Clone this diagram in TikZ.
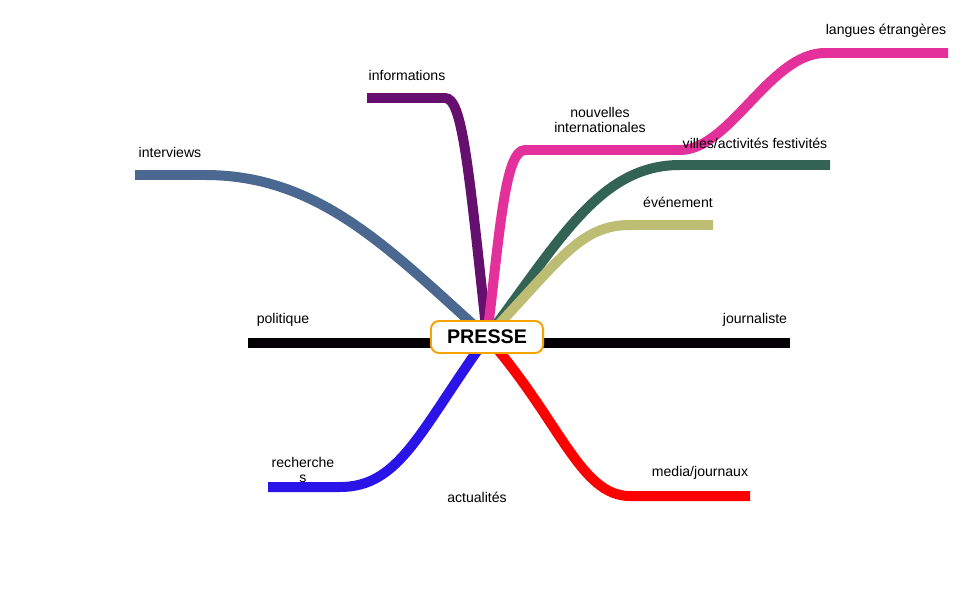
\documentclass[tikz,border=0pt]{standalone}
\usepackage{fontspec}
\setmainfont{Liberation Sans}
\definecolor{bleugris}{HTML}{4B6890}
\definecolor{violet}{HTML}{650F6E}
\definecolor{rose}{HTML}{E3309B}
\definecolor{vertfonce}{HTML}{336355}
\definecolor{kaki}{HTML}{BDBD74}
\definecolor{noir}{HTML}{050005}
\definecolor{bleu}{HTML}{2B14E8}
\definecolor{rouge}{HTML}{FF0000}
\definecolor{orange}{HTML}{F5A300}
\tikzset{
  branche/.style={line width=7.1pt},
  etiq/.style={font=\fontsize{10}{11}\selectfont, inner sep=0pt, align=center},
}
\begin{document}
\begin{tikzpicture}[x=0.025cm,y=-0.025cm]
\useasboundingbox (0,0) rectangle (973,613);
% centre
\coordinate (H) at (487,337);
\coordinate (Hg) at (440,343);
\coordinate (Hd) at (535,343);
% branches
\coordinate (I1) at (135,175);
\coordinate (I2) at (205,175);
\coordinate (F1) at (367,98);
\coordinate (F2) at (445,98);
\coordinate (N1) at (525,150);
\coordinate (N2) at (680,150);
\coordinate (L1) at (825,53);
\coordinate (L2) at (948,53);
\coordinate (V1) at (680,165);
\coordinate (V2) at (830,165);
\coordinate (E1) at (630,225);
\coordinate (E2) at (713,225);
\coordinate (P1) at (248,343);
\coordinate (J1) at (790,343);
\coordinate (R1) at (340,487);
\coordinate (R2) at (268,487);
\coordinate (M1) at (630,496);
\coordinate (M2) at (750,496);
\draw[branche,bleugris] (I1)--(I2) .. controls (320,175) and (390,250) .. (H);
\draw[branche,violet] (F1)--(F2) .. controls (462,98) and (468,160) .. (H);
\draw[branche,rose] (H) .. controls (500,230) and (505,150) .. (N1)--(N2)
  .. controls (730,150) and (770,53) .. (L1)--(L2);
\draw[branche,vertfonce] (H) .. controls (560,240) and (600,165) .. (V1)--(V2);
\draw[branche,kaki] (H) .. controls (560,260) and (580,225) .. (E1)--(E2);
\draw[branche,noir] (P1)--(Hg);
\draw[branche,noir] (Hd)--(J1);
\draw[branche,bleu] (H) .. controls (420,430) and (400,487) .. (R1)--(R2);
\draw[branche,rouge] (H) .. controls (560,420) and (580,496) .. (M1)--(M2);
\node[draw=orange, line width=1.4pt, fill=white, rounded corners=0.2cm,
  minimum width=2.8cm, minimum height=0.8cm, inner sep=0pt,
  font=\fontsize{14}{16}\selectfont\bfseries] (C) at (487,337) {PRESSE};
% etiquettes
\node[etiq] (tI) at (170,152) {interviews};
\node[etiq] (tF) at (407,75) {informations};
\node[etiq] (tN) at (600,120) {nouvelles\\internationales};
\node[etiq] (tL) at (886,31) {langues étrangères};
\node[etiq] (tV) at (755,143) {villes/activités festivités};
\node[etiq] (tE) at (678,202) {événement};
\node[etiq] (tP) at (283,320) {politique};
\node[etiq] (tJ) at (755,320) {journaliste};
\node[etiq] (tR) at (303,470) {recherche\\s};
\node[etiq] (tM) at (700,473) {media/journaux};
\node[etiq] (tA) at (477,497) {actualités};
\end{tikzpicture}
\end{document}
